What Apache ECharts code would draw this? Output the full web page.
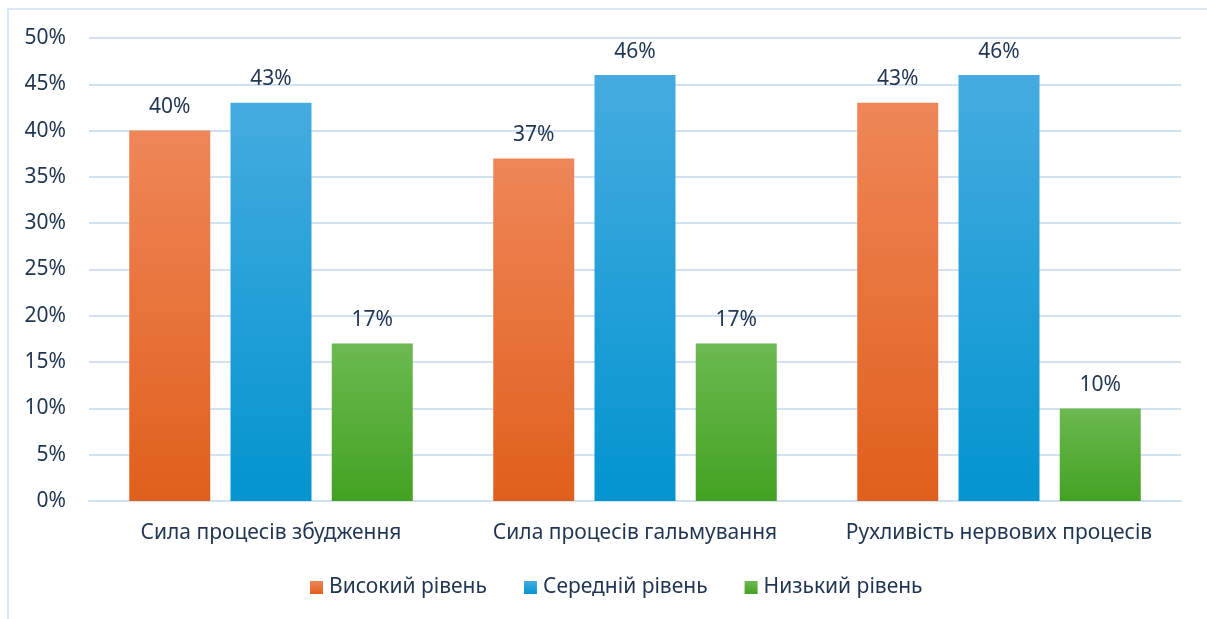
<!DOCTYPE html>
<html>
<head>
<meta charset="utf-8">
<script src="https://cdn.jsdelivr.net/npm/echarts@6/dist/echarts.min.js"></script>
<style>
  html, body { margin: 0; padding: 0; background: #ffffff; }
  #chart { width: 1207px; height: 619px; }
</style>
</head>
<body>
<div id="chart"></div>
<script>
// Categories and series values (percent)
const categories = ['Сила процесів збудження', 'Сила процесів гальмування', 'Рухливість нервових процесів'];
const seriesNames = ['Високий рівень', 'Середній рівень', 'Низький рівень'];
const highLevel = [40, 37, 43];
const midLevel = [43, 46, 46];
const lowLevel = [17, 17, 10];
const yTicks = [0, 5, 10, 15, 20, 25, 30, 35, 40, 45, 50];

const FONT = '"Noto Sans", "Open Sans", sans-serif';
const TEXT = '#1f3552';
const FS = 21;

function grad(top, bottom) {
  return new echarts.graphic.LinearGradient(0, 0, 0, 1, [
    { offset: 0, color: top },
    { offset: 1, color: bottom }
  ]);
}

const palettes = [
  ['#ef8658', '#e05f1c'],
  ['#45abe0', '#0394cf'],
  ['#6cb951', '#43a222']
];

const values = [highLevel, midLevel, lowLevel];

const chart = echarts.init(document.getElementById('chart'), null, { renderer: 'canvas' });

chart.setOption({
  animation: false,
  backgroundColor: '#ffffff',
  graphic: [{
    type: 'rect',
    shape: { x: 8, y: 9, width: 1400, height: 800 },
    style: { fill: 'none', stroke: '#cfdff0', lineWidth: 1.5 },
    silent: true,
    z: -1
  }],
  grid: { left: 89, right: 26, top: 38, bottom: 118, containLabel: false },
  legend: {
    bottom: 16,
    left: 305,
    itemWidth: 13,
    itemHeight: 13,
    itemGap: 37,
    icon: 'rect',
    textStyle: { fontFamily: FONT, fontSize: FS, color: TEXT, padding: [0, 0, 0, 1] },
    data: seriesNames.map((n, i) => ({ name: n, itemStyle: { color: grad(palettes[i][0], palettes[i][1]) } }))
  },
  xAxis: {
    type: 'category',
    data: categories,
    axisLine: { show: true, lineStyle: { color: '#d3e2f3', width: 2 } },
    axisTick: { show: false },
    axisLabel: { interval: 0, fontFamily: FONT, fontSize: FS, color: TEXT, margin: 22 }
  },
  yAxis: {
    type: 'value',
    min: 0,
    max: 50,
    interval: 5,
    axisLine: { show: false },
    axisTick: { show: false },
    splitLine: { lineStyle: { color: '#d3e2f3', width: 2 } },
    axisLabel: {
      fontFamily: FONT, fontSize: FS, color: TEXT, margin: 23,
      formatter: v => (yTicks.indexOf(v) >= 0 ? v + '%' : '')
    }
  },
  series: seriesNames.map((name, i) => ({
    name: name,
    type: 'bar',
    data: values[i],
    barWidth: 81,
    barGap: '25%',
    itemStyle: { color: grad(palettes[i][0], palettes[i][1]) },
    label: {
      show: true,
      position: 'top',
      distance: 13,
      formatter: p => p.value + '%',
      fontFamily: FONT, fontSize: FS, color: TEXT
    }
  }))
});
</script>
</body>
</html>
